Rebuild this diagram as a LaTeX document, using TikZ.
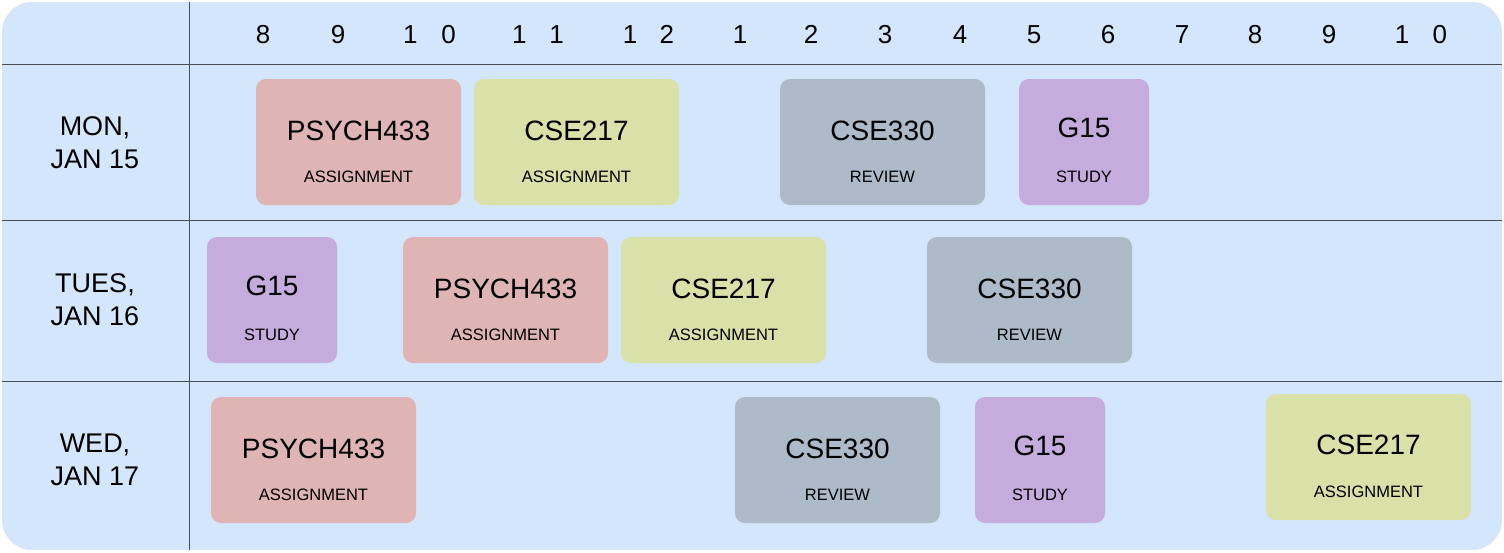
\documentclass[tikz,border=0pt]{standalone}
\usepackage{fontspec}
\setmainfont{Liberation Sans}
\definecolor{bgblue}{RGB}{212,230,252}
\definecolor{pinkc}{RGB}{222,180,180}
\definecolor{yellowc}{RGB}{217,224,168}
\definecolor{grayc}{RGB}{173,186,200}
\definecolor{purplec}{RGB}{196,172,221}
\definecolor{linec}{RGB}{72,78,88}
\tikzset{
  taskbox/.style={draw=none, rounded corners=10pt, minimum height=126pt, inner sep=0pt},
  maintxt/.style={anchor=base, inner sep=0pt, font=\fontsize{28}{30}\selectfont},
  subtxt/.style={anchor=base, inner sep=0pt, font=\fontsize{16.5}{18}\selectfont},
  hourtxt/.style={anchor=base, inner sep=0pt, font=\fontsize{26}{28}\selectfont},
  daytxt/.style={anchor=base, inner sep=0pt, align=center, font=\fontsize{27}{33}\selectfont},
  gridline/.style={draw=linec, line width=1.2pt}
}
\newcommand\task[8]{%
  \node[taskbox, fill=#5, minimum width=#4pt] (#1) at ({#2+#4/2},{#3+63}) {};
  \node[maintxt] (#1-m) at ([yshift=-#8pt]#1.north) {#6};
  \node[subtxt] (#1-s) at ([yshift=-104pt]#1.north) {#7};
}
\newcommand\hr[3]{\node[hourtxt] (#1) at (#2,43) {#3};}
\begin{document}
\begin{tikzpicture}[x=1pt,y=-1pt]
\useasboundingbox (0,0) rectangle (1504,552);
\fill[bgblue, rounded corners=30pt] (2,2) rectangle (1502,550);
% grid
\coordinate (vt) at (189.5,2);
\coordinate (vb) at (189.5,550);
\coordinate (h1l) at (2,64.5);
\coordinate (h1r) at (1502,64.5);
\coordinate (h2l) at (2,220.5);
\coordinate (h2r) at (1502,220.5);
\coordinate (h3l) at (2,381.5);
\coordinate (h3r) at (1502,381.5);
\draw[gridline] (vt) -- (vb);
\draw[gridline] (h1l) -- (h1r);
\draw[gridline] (h2l) -- (h2r);
\draw[gridline] (h3l) -- (h3r);
% hours
\hr{h8}{263}{8}
\hr{h9}{338}{9}
\hr{h10}{429.5}{1\hspace{24pt}0}
\hr{h11}{538}{1\hspace{23pt}1}
\hr{h12}{648.5}{1\hspace{22.5pt}2}
\hr{h1}{740}{1}
\hr{h2}{811}{2}
\hr{h3}{885}{3}
\hr{h4}{960}{4}
\hr{h5}{1034}{5}
\hr{h6}{1108}{6}
\hr{h7}{1182}{7}
\hr{h8b}{1255}{8}
\hr{h9b}{1329}{9}
\hr{h10b}{1421}{1\hspace{23.5pt}0}
% days
\node[daytxt] (d1) at (95,168) {MON,\\JAN 15};
\node[daytxt] (d2) at (95,325) {TUES,\\JAN 16};
\node[daytxt] (d3) at (95,485) {WED,\\JAN 17};
% row 1
\task{a1}{256}{79}{205}{pinkc}{PSYCH433}{ASSIGNMENT}{62}
\task{a2}{474}{79}{205}{yellowc}{CSE217}{ASSIGNMENT}{62}
\task{a3}{780}{79}{205}{grayc}{CSE330}{REVIEW}{62}
\task{a4}{1019}{79}{130}{purplec}{G15}{STUDY}{59}
% row 2
\task{b1}{207}{237}{130}{purplec}{G15}{STUDY}{59}
\task{b2}{403}{237}{205}{pinkc}{PSYCH433}{ASSIGNMENT}{62}
\task{b3}{621}{237}{205}{yellowc}{CSE217}{ASSIGNMENT}{62}
\task{b4}{927}{237}{205}{grayc}{CSE330}{REVIEW}{62}
% row 3
\task{c1}{211}{397}{205}{pinkc}{PSYCH433}{ASSIGNMENT}{62}
\task{c2}{735}{397}{205}{grayc}{CSE330}{REVIEW}{62}
\task{c3}{975}{397}{130}{purplec}{G15}{STUDY}{59}
\task{c4}{1266}{394}{205}{yellowc}{CSE217}{ASSIGNMENT}{61}
\end{tikzpicture}
\end{document}
